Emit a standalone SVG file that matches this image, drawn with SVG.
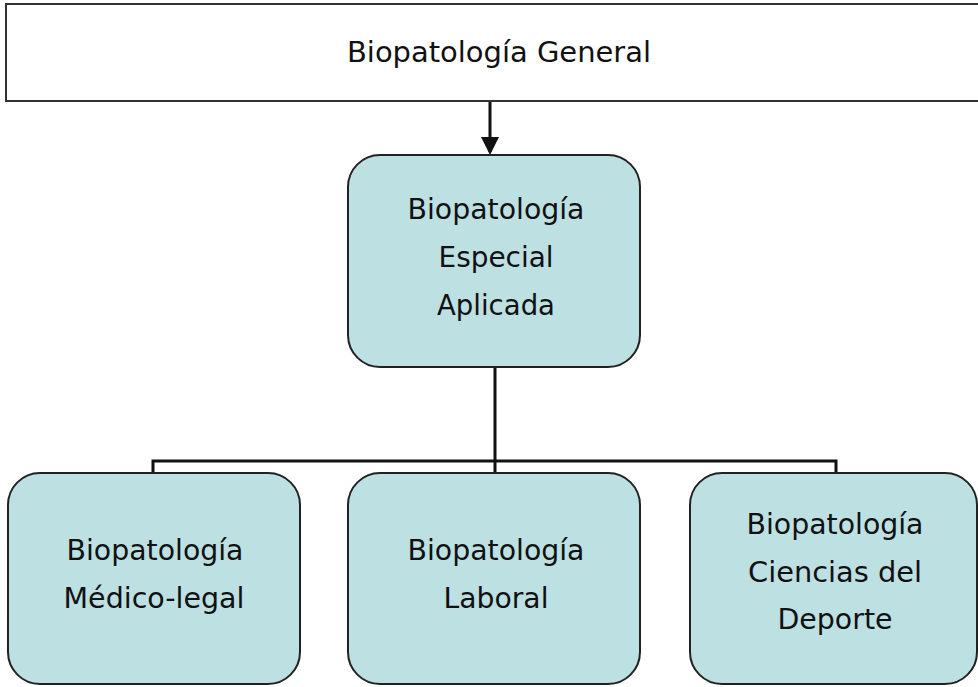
<svg xmlns="http://www.w3.org/2000/svg" width="978" height="687" viewBox="0 0 978 687">
<style>
.box{fill:#bde0e3;stroke:#222;stroke-width:2}
.top{fill:#fff;stroke:#333;stroke-width:2}
.t{font-family:"DejaVu Sans","Liberation Sans",sans-serif;font-size:28px;fill:#111;text-anchor:middle}
.tc{font-family:"DejaVu Sans Condensed","DejaVu Sans","Liberation Sans",sans-serif;font-size:28px;fill:#111;text-anchor:middle}
.c{fill:none;stroke:#111;stroke-width:3}
</style>
<defs>
<marker id="ah" markerWidth="6" markerHeight="6" refX="5" refY="3" orient="auto" markerUnits="strokeWidth">
<path d="M0,0 L6,3 L0,6 z" fill="#111"/>
</marker>
</defs>
<g id="connectors">
<line class="c" x1="490" y1="101" x2="490" y2="152" marker-end="url(#ah)"/>
<polyline class="c" points="495,367 495,461"/>
<polyline class="c" points="153,473 153,461 836,461 836,473"/>
<line class="c" x1="495" y1="461" x2="495" y2="473"/>
</g>
<g id="n-general">
<rect class="top" x="6" y="4" width="980" height="97"/>
<text class="tc" x="499" y="62" textLength="304" lengthAdjust="spacingAndGlyphs">Biopatología General</text>
</g>
<g id="n-especial">
<rect class="box" x="348" y="155" width="292" height="212" rx="32"/>
<text class="t" x="496" y="219" textLength="177" lengthAdjust="spacingAndGlyphs">Biopatología</text>
<text class="t" x="496" y="267" textLength="115" lengthAdjust="spacingAndGlyphs">Especial</text>
<text class="t" x="496" y="315" textLength="118" lengthAdjust="spacingAndGlyphs">Aplicada</text>
</g>
<g id="n-medico">
<rect class="box" x="8" y="473" width="292" height="211" rx="32"/>
<text class="t" x="155" y="560" textLength="177" lengthAdjust="spacingAndGlyphs">Biopatología</text>
<text class="t" x="154" y="608" textLength="181" lengthAdjust="spacingAndGlyphs">Médico-legal</text>
</g>
<g id="n-laboral">
<rect class="box" x="348" y="473" width="292" height="211" rx="32"/>
<text class="t" x="496" y="560" textLength="177" lengthAdjust="spacingAndGlyphs">Biopatología</text>
<text class="t" x="496" y="608" textLength="105" lengthAdjust="spacingAndGlyphs">Laboral</text>
</g>
<g id="n-deporte">
<rect class="box" x="690" y="473" width="287" height="211" rx="32"/>
<text class="t" x="835" y="534" textLength="177" lengthAdjust="spacingAndGlyphs">Biopatología</text>
<text class="t" x="835" y="582" textLength="174" lengthAdjust="spacingAndGlyphs">Ciencias del</text>
<text class="t" x="835" y="629" textLength="115" lengthAdjust="spacingAndGlyphs">Deporte</text>
</g>
</svg>
